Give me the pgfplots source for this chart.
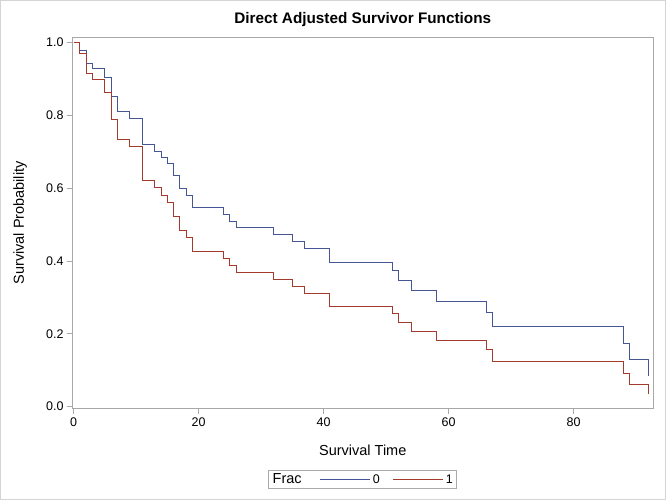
\documentclass[border=0pt]{standalone}
\usepackage{fontspec}
\setmainfont{Liberation Sans}
\usepackage{pgfplots}
\pgfplotsset{compat=1.18}
\definecolor{sasblue}{HTML}{445694}
\definecolor{sasred}{HTML}{A23A2E}
\definecolor{axgray}{HTML}{A8A8A8}
\definecolor{bordergray}{HTML}{D4D4D4}
\begin{document}
\begin{tikzpicture}
\useasboundingbox (0,0) rectangle (666bp,500bp);
\draw[bordergray, line width=1bp] (0.5bp,0.5bp) rectangle (665.5bp,499.5bp);
\begin{axis}[
  at={(72bp,91.5bp)}, anchor=south west,
  scale only axis, width=581.5bp, height=371.2bp,
  xmin=-0.27, xmax=92.8, ymin=-0.005, ymax=1.0148,
  axis line style={axgray, line width=0.9bp},
  tick style={axgray, line width=0.9bp},
  tick align=outside, major tick length=5bp,
  xtick pos=lower, ytick pos=left,
  xtick={0,20,40,60,80}, ytick={0,0.2,0.4,0.6,0.8,1.0},
  yticklabel style={/pgf/number format/.cd, fixed, fixed zerofill, precision=1},
  /pgf/number format/assume math mode=true,
  ticklabel style={font=\fontsize{12.5bp}{14bp}\selectfont, text=black},
  xticklabel style={yshift=-1bp},
  every axis title shift=0pt,
  title={\bfseries Direct Adjusted Survivor Functions},
  title style={font=\fontsize{15.3bp}{17bp}\selectfont, at={(axis description cs:0.5,1.0466)}, anchor=center},
  xlabel={Survival Time}, ylabel={Survival Probability},
  label style={font=\fontsize{14.5bp}{16bp}\selectfont},
  xlabel style={at={(axis description cs:0.5,-0.112)}, anchor=center},
  ylabel style={at={(axis description cs:-0.0894,0.5)}, anchor=center, rotate=0},
  legend columns=3,
  legend style={at={(axis description cs:0.5,-0.1657)}, anchor=north, draw=bordergray!80!black, line width=0.8bp,
    font=\fontsize{12.5bp}{14bp}\selectfont, inner xsep=2bp, inner ysep=1.5bp,
    /tikz/column 2/.style={column sep=16bp},
    /tikz/column 4/.style={column sep=11bp}},
  legend image code/.code={\draw[#1, line width=1.1bp] (0bp,0bp) -- (50bp,0bp);},
]
\addlegendimage{empty legend}
\addlegendentry{\fontsize{14.5bp}{16bp}\selectfont Frac}
\addplot[const plot, sasblue, line width=1bp] coordinates {
(0,1) (1,0.978) (2,0.943) (3,0.930) (5,0.905) (6,0.851) (7,0.810) (9,0.791) (11,0.719) (13,0.700) (14,0.685) (15,0.668) (16,0.634) (17,0.599) (18,0.581) (19,0.547) (24,0.528) (25,0.510) (26,0.492) (32,0.473) (35,0.453) (37,0.434) (41,0.397) (51,0.373) (52,0.347) (54,0.320) (58,0.289) (66,0.259) (67,0.220) (88,0.174) (89,0.129) (92,0.085)
};
\addlegendentry{0}
\addplot[const plot, sasred, line width=1bp] coordinates {
(0,1) (1,0.969) (2,0.916) (3,0.898) (5,0.863) (6,0.790) (7,0.735) (9,0.714) (11,0.621) (13,0.603) (14,0.581) (15,0.561) (16,0.522) (17,0.483) (18,0.464) (19,0.427) (24,0.407) (25,0.388) (26,0.369) (32,0.350) (35,0.331) (37,0.312) (41,0.275) (51,0.255) (52,0.232) (54,0.207) (58,0.183) (66,0.157) (67,0.124) (88,0.092) (89,0.061) (92,0.035)
};
\addlegendentry{1}
\end{axis}
\end{tikzpicture}
\end{document}
